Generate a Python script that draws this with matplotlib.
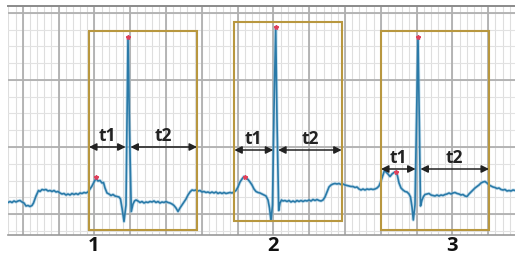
import numpy as np
import matplotlib
matplotlib.use("Agg")
import matplotlib.pyplot as plt
from matplotlib.patches import Rectangle

# ---- ECG trace (time in ms, amplitude in mV) ----
t_ms = [40, 50, 60, 70, 80, 90, 100, 110, 120, 130, 140, 150, 160, 167.5, 180, 192.5, 200, 210, 220, 230,
        240, 250, 260, 270, 280, 290, 300, 310, 320, 330, 340, 350, 360, 370, 380, 390, 400, 410, 420, 430,
        440, 450, 460, 470, 480, 490, 500, 510, 517.5, 525, 535, 545, 555, 565, 575, 585, 595, 602.5, 610, 620,
        630, 635, 640, 647.5, 656.5, 665, 672.5, 680, 690, 700, 710, 720, 730, 740, 750, 760, 770, 780, 790, 800,
        810, 820, 830, 840, 850, 860, 870, 880, 890, 900, 910, 920, 930, 940, 950, 960, 970, 980, 990, 1000,
        1010, 1020, 1030, 1040, 1050, 1060, 1070, 1080, 1090, 1100, 1110, 1120, 1130, 1140, 1150, 1160, 1170,
        1180, 1190, 1200, 1210, 1220, 1230, 1240, 1250, 1260, 1270, 1280, 1290, 1300, 1310, 1320, 1330, 1340,
        1347.5, 1355, 1362.5, 1370, 1378.5, 1385, 1393.5, 1400, 1407.5, 1415, 1425, 1435, 1445, 1455, 1465,
        1475, 1485, 1495, 1505, 1515, 1525, 1535, 1545, 1555, 1565, 1575, 1585, 1595, 1605, 1615, 1625, 1635,
        1645, 1655, 1665, 1675, 1685, 1695, 1705, 1715, 1725, 1735, 1745, 1755, 1765, 1775, 1785, 1795, 1805,
        1815, 1825, 1835, 1845, 1855, 1865, 1875, 1885, 1895, 1905, 1915, 1922.5, 1930, 1940, 1950, 1960, 1970,
        1980, 1987.5, 1995, 2005, 2015, 2025, 2035, 2045, 2052.5, 2060, 2066.5, 2075, 2082.5, 2090, 2096.5,
        2102.5, 2110, 2117.5, 2125, 2135, 2145, 2155, 2165, 2175, 2185, 2195, 2205, 2215, 2225, 2235, 2245,
        2255, 2265, 2275, 2285, 2295, 2305, 2315, 2325, 2335, 2345, 2355, 2365, 2375, 2385, 2395, 2405, 2415,
        2425, 2435, 2445, 2455, 2465, 2475, 2485, 2495, 2505, 2515, 2525, 2535, 2545, 2555, 2565, 2575]
ecg_mv = [0.115, 0.125, 0.115, 0.13, 0.12, 0.13, 0.135, 0.12, 0.11, 0.08, 0.085, 0.075, 0.085, 0.11, 0.18,
          0.235, 0.225, 0.245, 0.24, 0.245, 0.23, 0.235, 0.225, 0.235, 0.22, 0.225, 0.21, 0.20, 0.205, 0.19,
          0.20, 0.19, 0.205, 0.195, 0.205, 0.195, 0.21, 0.205, 0.215, 0.21, 0.22, 0.25, 0.28, 0.32, 0.355,
          0.33, 0.335, 0.31, 0.315, 0.26, 0.21, 0.20, 0.185, 0.195, 0.18, 0.175, 0.17, 0.15, 0.06, -0.075,
          0.09, 0.94, 1.77, 0.84, 0.025, 0.10, 0.13, 0.14, 0.13, 0.115, 0.125, 0.11, 0.12, 0.115, 0.125, 0.12,
          0.13, 0.115, 0.125, 0.11, 0.12, 0.115, 0.125, 0.115, 0.11, 0.10, 0.085, 0.06, 0.025, 0.06, 0.09,
          0.12, 0.15, 0.19, 0.22, 0.24, 0.235, 0.24, 0.23, 0.235, 0.22, 0.225, 0.215, 0.22, 0.21, 0.22, 0.21,
          0.22, 0.205, 0.215, 0.205, 0.215, 0.205, 0.21, 0.215, 0.21, 0.22, 0.235, 0.27, 0.32, 0.35, 0.375,
          0.36, 0.345, 0.32, 0.29, 0.25, 0.225, 0.215, 0.21, 0.20, 0.19, 0.18, 0.14, 0.06, -0.065, 0.09, 1.04,
          1.87, 0.94, 0.035, 0.11, 0.14, 0.13, 0.135, 0.125, 0.135, 0.12, 0.13, 0.12, 0.135, 0.125, 0.135,
          0.125, 0.135, 0.13, 0.14, 0.13, 0.145, 0.135, 0.145, 0.135, 0.13, 0.14, 0.17, 0.22, 0.27, 0.29, 0.30,
          0.305, 0.30, 0.305, 0.295, 0.30, 0.29, 0.285, 0.28, 0.275, 0.275, 0.265, 0.27, 0.25, 0.24, 0.25,
          0.24, 0.25, 0.245, 0.25, 0.245, 0.25, 0.26, 0.28, 0.33, 0.39, 0.435, 0.42, 0.40, 0.375, 0.40, 0.415,
          0.425, 0.38, 0.31, 0.26, 0.24, 0.225, 0.22, 0.20, 0.17, 0.07, -0.06, 0.09, 0.94, 1.77, 0.94, 0.08,
          0.14, 0.175, 0.195, 0.20, 0.205, 0.19, 0.185, 0.18, 0.19, 0.18, 0.19, 0.185, 0.195, 0.20, 0.21, 0.20,
          0.21, 0.215, 0.205, 0.20, 0.19, 0.195, 0.18, 0.175, 0.20, 0.22, 0.24, 0.26, 0.275, 0.29, 0.31, 0.32,
          0.325, 0.31, 0.29, 0.28, 0.27, 0.265, 0.255, 0.26, 0.245, 0.24, 0.245, 0.23, 0.235, 0.23, 0.24, 0.235]

# ---- detected peaks ----
r_peak_t = [640, 1378.5, 2090]
r_peak_mv = [1.773, 1.87, 1.77]
p_peak_t = [480, 1225, 1978.5]
p_peak_mv = [0.37, 0.37, 0.42]

# ---- analysis windows (one per beat) ----
beat_labels = ["1", "2", "3"]
beat_label_t = [470, 1365, 2260]
win_start = [445, 1171.5, 1905]
win_end = [985, 1708.5, 2445]
win_top = [1.83, 1.923, 1.83]
win_bottom = [-0.16, -0.07, -0.16]
arrow_mv = [0.67, 0.64, 0.45]
interval_names = ["t1", "t2"]

fig = plt.figure(figsize=(5.15, 2.58), dpi=100)
ax = fig.add_axes([8 / 515, 23 / 258, 507 / 515, 229 / 258])
ax.set_xlim(40, 2575)
ax.set_ylim(-0.21, 2.08)

# ECG paper grid
x_major = 114 + 179 * np.arange(0, 14)
x_minor = 114 + 35.8 * np.arange(-2, 69)
y_major = 0.67 * np.arange(0, 4)
y_minor = 0.1675 * np.arange(-1, 13)
for x in x_minor:
    ax.axvline(x, color="#dedede", lw=0.8, zorder=0)
for y in y_minor:
    ax.axhline(y, color="#e2e2e2", lw=0.8, zorder=0)
for x in x_major:
    ax.axvline(x, color="#b0b0b0", lw=1.3, zorder=0.5)
for y in y_major:
    ax.axhline(y, color="#b0b0b0", lw=1.3, zorder=0.5)

ax.set_xticks([])
ax.set_yticks([])
for s in ["left", "right"]:
    ax.spines[s].set_visible(False)
ax.spines["top"].set_color("#8a8a8a")
ax.spines["top"].set_linewidth(1.4)
ax.spines["bottom"].set_color("#9a9a9a")
ax.spines["bottom"].set_linewidth(1.2)

# trace
ax.plot(t_ms, ecg_mv, color="#8fc0dc", lw=2.4, alpha=0.5, zorder=2, solid_joinstyle="round")
ax.plot(t_ms, ecg_mv, color="#2a7aa8", lw=1.2, zorder=3, solid_joinstyle="round")

# peaks
ax.plot(r_peak_t, r_peak_mv, ls="none", marker="*", ms=3.2, color="#e0405a", zorder=4)
ax.plot(p_peak_t, p_peak_mv, ls="none", marker="*", ms=3.2, color="#e0405a", zorder=4)

# windows, arrows, labels
for i in range(3):
    ax.add_patch(Rectangle((win_start[i], win_bottom[i]), win_end[i] - win_start[i],
                           win_top[i] - win_bottom[i], fill=False, ec="#b8973f", lw=1.5, zorder=5))
    segs = [(win_start[i], r_peak_t[i] - 12), (r_peak_t[i] + 12, win_end[i])]
    for (a, b), name in zip(segs, interval_names):
        ax.annotate("", xy=(b, arrow_mv[i]), xytext=(a, arrow_mv[i]),
                    arrowprops=dict(arrowstyle="<|-|>", color="#222222", lw=1.1,
                                    mutation_scale=11, shrinkA=0, shrinkB=0), zorder=6)
        ax.text((a + b) / 2, arrow_mv[i] + 0.02, name, ha="center", va="bottom",
                fontsize=12.5, fontweight="bold", family=["Open Sans", "DejaVu Sans"],
                color="#222222", zorder=6)
    ax.text(beat_label_t[i], -0.05, beat_labels[i], transform=ax.get_xaxis_transform(),
            ha="center", va="center", fontsize=14.5, fontweight="bold",
            family=["Open Sans", "DejaVu Sans"], color="#111111", clip_on=False)

fig.savefig("out.png", dpi=100)
